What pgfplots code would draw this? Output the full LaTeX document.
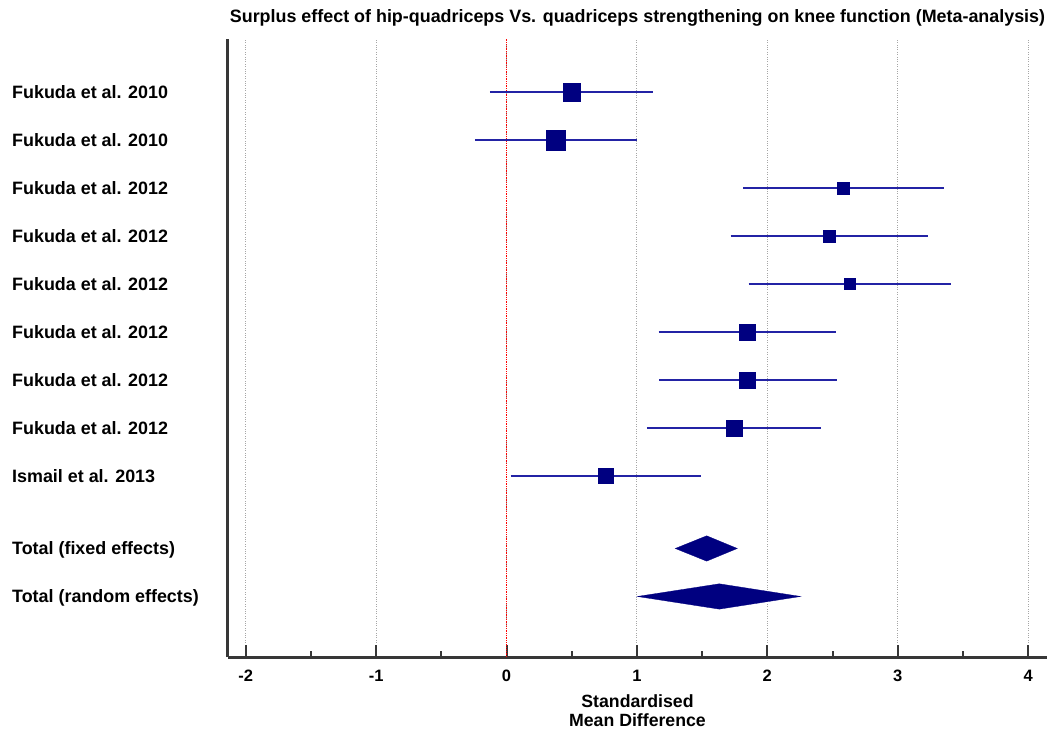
\documentclass[border=0pt]{standalone}
\usepackage{fontspec}
\setmainfont{Liberation Sans}
\usepackage{pgfplots}
\usepackage{pgfplotstable}
\pgfplotsset{compat=1.18}
\definecolor{navy}{RGB}{0,0,128}
\definecolor{ciblue}{RGB}{35,35,165}
\definecolor{spine}{RGB}{55,55,55}
\pgfplotstableread{
x      y   s
0.498  -1  8.8
0.376  -2  9.85
2.584  -3  6.15
2.473  -4  6.15
2.633  -5  5.5
1.848  -6  8.15
1.848  -7  8.15
1.746  -8  8.15
0.761  -9  7.35
}\studies
\begin{document}
\begin{tikzpicture}
\useasboundingbox (0,0) rectangle (1053pt,729pt);
\begin{axis}[
  at={(228pt,72pt)}, anchor=south west,
  scale only axis, width=819pt, height=618pt,
  xmin=-2.136, xmax=4.145, ymin=-12.771, ymax=0.104,
  axis x line*=bottom, axis y line*=left,
  axis line style={line width=3pt, color=spine, -},
  xtick={-2,-1,0,1,2,3,4},
  xticklabels={-2,-1,0,1,2,3,4},
  minor xtick={-1.5,-0.5,0.5,1.5,2.5,3.5},
  tick align=inside,
  major tick length=12pt, minor tick length=6pt,
  xtick style={line width=2pt, color=spine},
  ytick={-11.5,-10.5,-9,-8,-7,-6,-5,-4,-3,-2,-1},
  yticklabels={Total (random effects),Total (fixed effects),Ismail et al. 2013,Fukuda et al. 2012,Fukuda et al. 2012,Fukuda et al. 2012,Fukuda et al. 2012,Fukuda et al. 2012,Fukuda et al. 2012,Fukuda et al. 2010,Fukuda et al. 2010},
  ytick style={draw=none},
  yticklabel style={anchor=base west, xshift=-216pt, yshift=-6.3pt, inner sep=0pt, font=\fontsize{17.9}{20}\selectfont\bfseries},
  xticklabel style={anchor=north, yshift=-13pt, inner sep=0pt, font=\fontsize{16.5}{19}\selectfont\bfseries},
  xmajorgrids,
  major grid style={dotted, color=gray!70, line width=0.9pt},
  title={Surplus effect of hip-quadriceps Vs. quadriceps strengthening on knee function (Meta-analysis)},
  title style={at={(0.5,1)}, anchor=base, yshift=10pt, inner sep=0pt, font=\fontsize{17.9}{20}\selectfont\bfseries},
  xlabel={Standardised\\Mean Difference},
  xlabel style={at={(0.5,0)}, anchor=north, yshift=-37pt, inner sep=0pt, align=center, font=\fontsize{17.7}{19}\selectfont\bfseries},
  clip=false,
]
% zero line
\addplot[red, densely dotted, line width=1.3pt] coordinates {(0,-12.771) (0,0.104)};
% confidence intervals
\addplot[ciblue, line width=2pt] coordinates {(-0.127,-1) (1.123,-1)};
\addplot[ciblue, line width=2pt] coordinates {(-0.242,-2) (0.998,-2)};
\addplot[ciblue, line width=2pt] coordinates {(1.816,-3) (3.355,-3)};
\addplot[ciblue, line width=2pt] coordinates {(1.719,-4) (3.230,-4)};
\addplot[ciblue, line width=2pt] coordinates {(1.857,-5) (3.409,-5)};
\addplot[ciblue, line width=2pt] coordinates {(1.167,-6) (2.525,-6)};
\addplot[ciblue, line width=2pt] coordinates {(1.172,-7) (2.532,-7)};
\addplot[ciblue, line width=2pt] coordinates {(1.077,-8) (2.412,-8)};
\addplot[ciblue, line width=2pt] coordinates {(0.032,-9) (1.489,-9)};
% point estimates
\addplot[only marks, mark=square*, draw=navy, fill=navy,
  mark options={draw=navy, fill=navy, line width=0.3pt},
  visualization depends on={\thisrow{s} \as \msize},
  scatter, scatter/use mapped color={draw=navy, fill=navy},
  scatter/@pre marker code/.append style={/tikz/mark size=\msize pt}]
  table[x=x, y=y] {\studies};
% pooled estimates
\addplot[fill=navy, draw=navy, line width=0.3pt] coordinates {(1.294,-10.51) (1.535,-10.246) (1.770,-10.51) (1.535,-10.774)} --cycle;
\addplot[fill=navy, draw=navy, line width=0.3pt] coordinates {(1.003,-11.51) (1.632,-11.246) (2.256,-11.51) (1.632,-11.774)} --cycle;
\end{axis}
\end{tikzpicture}
\end{document}
